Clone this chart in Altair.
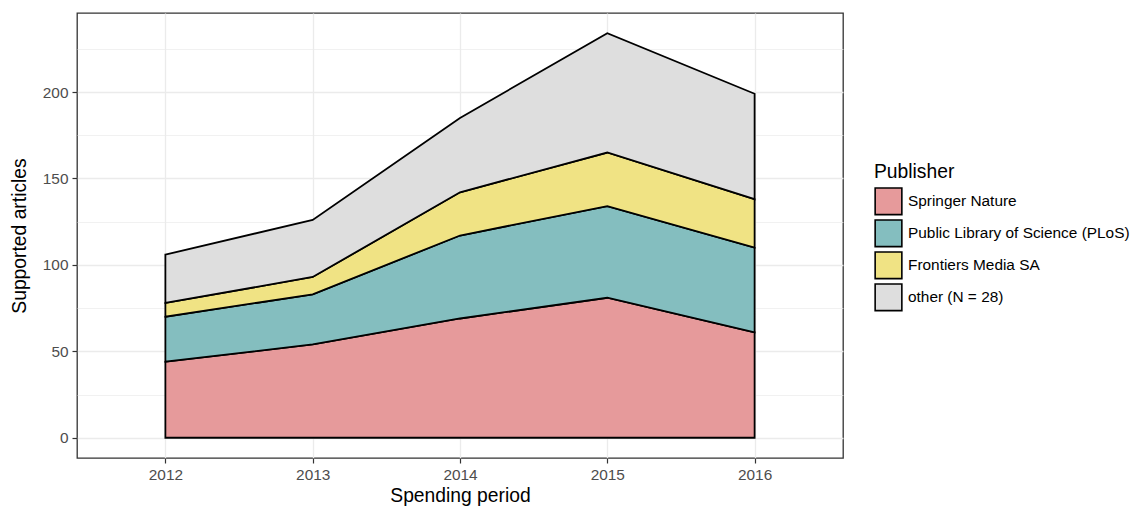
import altair as alt
import pandas as pd

years = [2012, 2013, 2014, 2015, 2016]
publishers = [
    "Springer Nature",
    "Public Library of Science (PLoS)",
    "Frontiers Media SA",
    "other (N = 28)",
]
springer = [44, 54, 69, 81, 61]
plos = [26, 29, 48, 53, 49]
frontiers = [8, 10, 25, 31, 28]
other = [28, 33, 43, 69, 61]
colors = ["#E69A9B", "#84BEBF", "#F0E384", "#DEDEDE"]
y_ticks = [0, 25, 50, 75, 100, 125, 150, 175, 200, 225]

rows = []
for i, (pub, vals) in enumerate(zip(publishers, [springer, plos, frontiers, other])):
    for yr, v in zip(years, vals):
        rows.append({"year": yr, "publisher": pub, "articles": v, "order": i})
df = pd.DataFrame(rows)

FONT = "Liberation Sans"

x_axis = alt.Axis(
    values=years, format="d", title="Spending period",
    grid=True, gridColor="#EBEBEB", gridWidth=1.3,
    domain=False, tickColor="#333333", tickSize=5, tickWidth=1.2,
    labelFont=FONT, labelFontSize=15.4, labelColor="#4D4D4D", labelPadding=4.5,
    labelFlush=False,
    titleFont=FONT, titleFontSize=19.3, titleFontWeight="normal", titleColor="#000000",
    titlePadding=4,
)
y_axis = alt.Axis(
    values=y_ticks, title="Supported articles",
    labelExpr="datum.value % 50 === 0 ? datum.label : ''",
    labelOverlap=False,
    grid=True, gridColor="#EBEBEB",
    gridWidth={"condition": {"test": "datum.value % 50 === 0", "value": 1.3}, "value": 0.7},
    tickOpacity={"condition": {"test": "datum.value % 50 === 0", "value": 1}, "value": 0},
    domain=False, tickColor="#333333", tickSize=5, tickWidth=1.2,
    labelFont=FONT, labelFontSize=15.4, labelColor="#4D4D4D", labelPadding=4,
    titleFont=FONT, titleFontSize=19.3, titleFontWeight="normal", titleColor="#000000",
    titlePadding=13,
)

legend = alt.Legend(
    title="Publisher", orient="none", legendX=797, legendY=149.5,
    titleFont=FONT, titleFontSize=19.3, titleFontWeight="normal", titleColor="#000000",
    titlePadding=5,
    labelFont=FONT, labelFontSize=15.4, labelColor="#000000", labelOffset=5,
    labelLimit=400,
    symbolType="square", symbolSize=713, symbolStrokeColor="#000000",
    symbolStrokeWidth=1.6, symbolOpacity=1, rowPadding=-6.5, padding=0, offset=0,
)

chart = alt.Chart(df).mark_area(stroke="#000000", strokeWidth=1.8, opacity=1).encode(
    x=alt.X("year:Q", scale=alt.Scale(domain=[2011.4, 2016.6], nice=False, zero=False), axis=x_axis),
    y=alt.Y("articles:Q", stack="zero", scale=alt.Scale(domain=[-11.7, 245.7], nice=False), axis=y_axis),
    color=alt.Color("publisher:N", scale=alt.Scale(domain=publishers, range=colors), legend=legend),
    order=alt.Order("order:Q"),
).properties(
    width=766, height=445,
    background="#FFFFFF",
    autosize=alt.AutoSizeParams(type="none"),
    padding={"left": 69, "top": 5, "right": 289, "bottom": 48},
).configure_view(
    stroke="#333333", strokeWidth=1.3
)

chart.save("out.html", embed_options={"renderer": "svg", "actions": False})
